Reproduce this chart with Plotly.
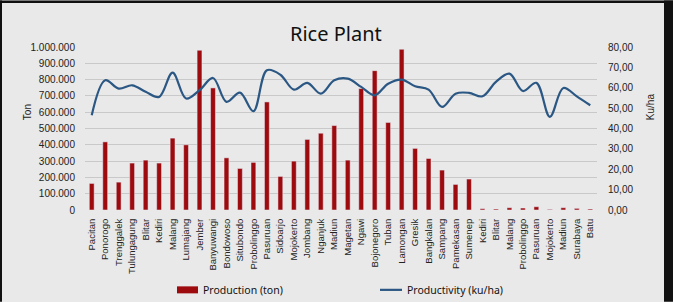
import plotly.graph_objects as go

regions = ["Pacitan", "Ponorogo", "Trenggalek", "Tulungagung", "Blitar", "Kediri", "Malang",
           "Lumajang", "Jember", "Banyuwangi", "Bondowoso", "Situbondo", "Probolinggo", "Pasuruan",
           "Sidoarjo", "Mojokerto", "Jombang", "Nganjuk", "Madiun", "Magetan", "Ngawi",
           "Bojonegoro", "Tuban", "Lamongan", "Gresik", "Bangkalan", "Sampang", "Pamekasan",
           "Sumenep", "Kediri", "Blitar", "Malang", "Probolinggo", "Pasuruan", "Mojokerto",
           "Madiun", "Surabaya", "Batu"]

production_ton = [163000, 418000, 171000, 288000, 306000, 288000, 441000, 400000, 980000, 749000,
                  320000, 255000, 292000, 663000, 206000, 300000, 433000, 471000, 518000, 306000,
                  745000, 855000, 537000, 986000, 378000, 316000, 245000, 157000, 190000, 8000,
                  6000, 14000, 12000, 20000, 4000, 14000, 10000, 6000]

productivity_kuha = [46.5, 63.7, 59.6, 61.2, 58.0, 55.5, 67.4, 54.7, 58.8, 64.8, 53.1, 57.6, 48.5,
                     68.6, 66.4, 59.1, 62.4, 57.1, 63.7, 64.5, 60.4, 56.3, 62.0, 64.0, 60.7, 59.1,
                     50.6, 57.1, 57.5, 55.8, 62.9, 66.9, 58.4, 62.4, 45.7, 59.9, 55.8, 51.4]

W, H = 673, 302
L, R, T, B = 85, 597, 46.7, 210  # plot area in pixels

def px(x):
    return (x - L) / (R - L)

def py(y):
    return (B - y) / (B - T)

BAR = "#9e0b0f"
LINE = "#2a5783"
BG = "#e9e9e9"

idx = list(range(len(regions)))

fig = go.Figure()
fig.add_trace(go.Bar(x=idx, y=production_ton, name="Production (ton)",
                     marker_color=BAR, width=0.36, yaxis="y"))
fig.add_trace(go.Scatter(x=idx, y=productivity_kuha, name="Productivity (ku/ha)",
                         mode="lines", line=dict(color=LINE, width=2.2, shape="spline", smoothing=1.0),
                         yaxis="y2"))

tickfont = dict(family="Liberation Sans", size=10, color="#222222")

fig.update_layout(
    width=W, height=H,
    margin=dict(l=L, r=W - R, t=T, b=H - B, autoexpand=False),
    paper_bgcolor=BG, plot_bgcolor=BG,
    separators=",.",
    showlegend=False,
    xaxis=dict(range=[-0.5, len(regions) - 0.5], tickmode="array", tickvals=idx, ticktext=regions,
               tickangle=-90, tickfont=dict(family="Liberation Sans", size=9.5, color="#222222"),
               showgrid=False, zeroline=False, showline=False,
               ticks="outside", ticklen=4, tickcolor="rgba(0,0,0,0)", automargin=False),
    yaxis=dict(range=[0, 1000000], dtick=100000, tickformat=",d", tickfont=tickfont,
               showgrid=True, gridcolor="#c9c9c9", gridwidth=1, zeroline=False, showline=False,
               ticks="outside", ticklen=7, tickcolor="rgba(0,0,0,0)", automargin=False),
    yaxis2=dict(range=[0, 80], dtick=10, tickformat=",.2f", tickfont=tickfont, overlaying="y",
                side="right", showgrid=False, zeroline=False, showline=False,
                ticks="outside", ticklen=8, tickcolor="rgba(0,0,0,0)", automargin=False),
)

annotations = [
    dict(text="Rice Plant", x=px(336), y=py(33), xref="paper", yref="paper", showarrow=False,
         font=dict(family="Noto Sans", size=20, color="#111111"), xanchor="center", yanchor="middle"),
    dict(text="Ton", x=px(27), y=py(112), xref="paper", yref="paper", showarrow=False, textangle=-90,
         font=dict(family="Liberation Sans", size=10, color="#222222"), xanchor="center", yanchor="middle"),
    dict(text="Ku/ha", x=px(650), y=py(107), xref="paper", yref="paper", showarrow=False, textangle=-90,
         font=dict(family="Liberation Sans", size=10, color="#222222"), xanchor="center", yanchor="middle"),
    dict(text="Production (ton)", x=px(201), y=py(290), xref="paper", yref="paper", showarrow=False,
         font=dict(family="Noto Sans", size=10.5, color="#111111"), xanchor="left", yanchor="middle"),
    dict(text="Productivity (ku/ha)", x=px(405), y=py(290), xref="paper", yref="paper", showarrow=False,
         font=dict(family="Noto Sans", size=10.5, color="#111111"), xanchor="left", yanchor="middle"),
]
fig.update_layout(annotations=annotations)

shapes = [
    # legend swatches
    dict(type="rect", xref="paper", yref="paper", x0=px(177), x1=px(198), y0=py(293.5), y1=py(286.5),
         fillcolor=BAR, line=dict(width=0)),
    dict(type="line", xref="paper", yref="paper", x0=px(380), x1=px(402), y0=py(290), y1=py(290),
         line=dict(color=LINE, width=2.2)),
    # frame
    dict(type="rect", xref="paper", yref="paper", x0=px(0), x1=px(2), y0=py(0), y1=py(H),
         fillcolor="#111111", line=dict(width=0)),
    dict(type="rect", xref="paper", yref="paper", x0=px(0), x1=px(W), y0=py(0), y1=py(2.5),
         fillcolor="#111111", line=dict(width=0)),
    dict(type="rect", xref="paper", yref="paper", x0=px(664), x1=px(W), y0=py(0), y1=py(H),
         fillcolor="#111111", line=dict(width=0)),
]
fig.update_layout(shapes=shapes)

fig.write_html("out.html")
